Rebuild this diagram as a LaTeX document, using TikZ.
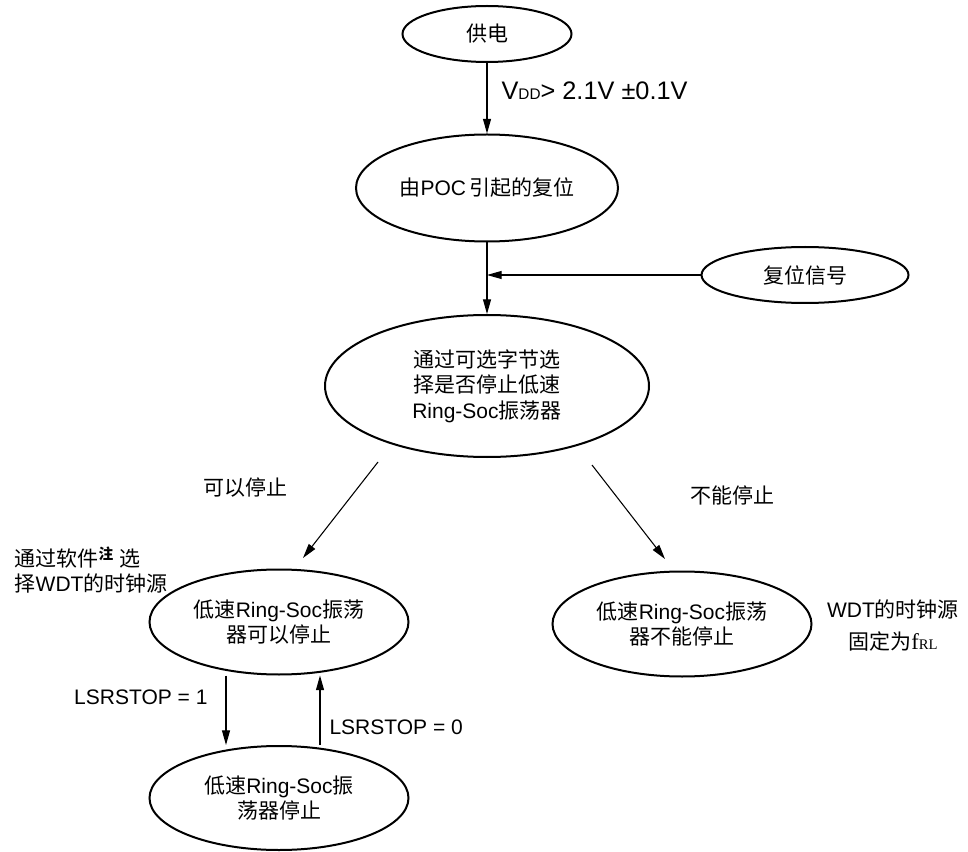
\documentclass[tikz,border=0pt]{standalone}
\usepackage{fontspec}
\setmainfont{Liberation Sans}
\newfontfamily\cjk{Noto Sans CJK SC}
\newfontfamily\serif{Liberation Serif}
\usetikzlibrary{shapes.geometric,arrows.meta,calc}
\newcommand{\zh}[1]{{\cjk #1}}
\begin{document}
\begin{tikzpicture}[x=0.75pt,y=-0.75pt,>={Triangle[length=11pt,width=6pt]},
		font=\fontsize{15.75}{19}\selectfont,
		state/.style={ellipse,draw,line width=1.5pt,inner sep=0pt,align=center},
		sz/.style 2 args={minimum width=#1*0.75pt,minimum height=#2*0.75pt},
		conn/.style={->,line width=0.8pt}]
			\useasboundingbox (0,0) rectangle (968,852);
			% states
			\node[state,sz={169}{56}] (pwr) at (487,34) {\zh{供电}};
			\node[state,sz={262}{107}] (poc) at (487,188) {\zh{由}POC\,\zh{引起的复位}};
			\node[state,sz={207}{56}] (rst) at (805,275) {\zh{复位信号}};
			\node[state,sz={324}{142}] (sel) at (487,386) {\zh{通过可选字节选}\\\zh{择是否停止低速}\\Ring-Soc\zh{振荡器}};
			\node[state,sz={259}{105}] (stop) at (279,622) {\zh{低速}Ring-Soc\zh{振荡}\\\zh{器可以停止}};
			\node[state,sz={259}{105}] (nost) at (682,624) {\zh{低速}Ring-Soc\zh{振荡}\\\zh{器不能停止}};
			\node[state,sz={259}{104}] (halt) at (279,798) {\zh{低速}Ring-Soc\zh{振}\\\zh{荡器停止}};
			% side notes
			\node[anchor=west,align=left] (swnote) at (10,570) {\zh{通过软件}\textsuperscript{\zh{\bfseries 注}} \zh{选}\\\zh{择}WDT\zh{的时钟源}};
			\node[align=center,font=\fontsize{15.75}{24}\selectfont] (wdtnote) at (893,626) {WDT\zh{的时钟源}\\\zh{固定为}{\serif\fontsize{17}{19}\selectfont f\fontsize{11}{13}\selectfont RL}};
			% connectors
			\draw[conn] (pwr) -- node[right=10.5pt,inner sep=0pt,pos=.4,font=\fontsize{19}{22}\selectfont] (vdd) {V{\fontsize{11.5}{13}\selectfont DD}> 2.1V ±0.1V} (poc);
			\coordinate (join) at (poc.south |- rst);
			\draw[conn] (poc.south) -- (poc.south |- sel.north);
			\draw[conn] (rst) -- (join);
			\coordinate (l0) at (378,462);
			\coordinate (l1) at (303,558);
			\coordinate (r0) at (592,465);
			\coordinate (r1) at (665,559);
			\draw[conn] (l0) -- node[left=52pt,pos=.27,inner sep=0pt] (can) {\zh{可以停止}} (l1);
			\draw[conn] (r0) -- node[right=56pt,pos=.32,inner sep=0pt] (cannot) {\zh{不能停止}} (r1);
			\draw[conn] ($(stop.south)+(-53,0)$) -- node[left=13.5pt,pos=.31,inner sep=0pt] (set) {LSRSTOP = 1} ($(halt.north)+(-53,0)$);
			\draw[conn] ($(halt.north)+(41,0)$) -- node[right=6.75pt,pos=.25,inner sep=0pt] (clr) {LSRSTOP = 0} ($(stop.south)+(41,0)$);
		\end{tikzpicture}
\end{document}
